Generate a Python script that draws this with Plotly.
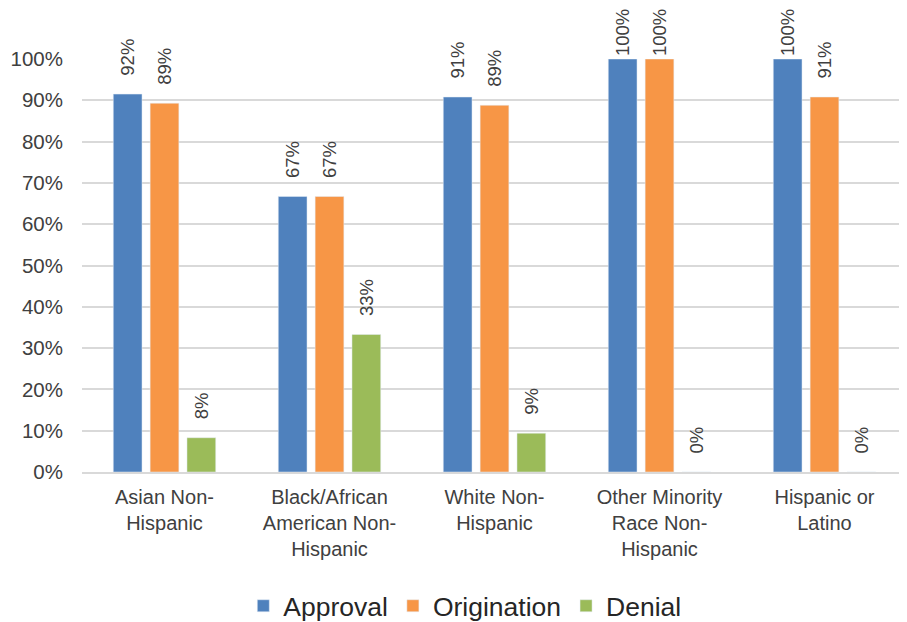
import plotly.graph_objects as go

categories = [
    "Asian Non-<br>Hispanic",
    "Black/African<br>American Non-<br>Hispanic",
    "White Non-<br>Hispanic",
    "Other Minority<br>Race Non-<br>Hispanic",
    "Hispanic or<br>Latino",
]
approval = [0.915, 0.667, 0.908, 1.0, 1.0]
origination = [0.893, 0.667, 0.888, 1.0, 0.908]
denial = [0.083, 0.333, 0.094, 0.0, 0.0]

series = [
    ("Approval", approval, "#4f81bd"),
    ("Origination", origination, "#f79646"),
    ("Denial", denial, "#9bbb59"),
]

FONT = "Liberation Sans, Arial, sans-serif"
PAD = "\u00a0\u00a0\u00a0"


def _label(v):
    # Excel pushes the 100% labels down onto the bar top
    return f"{v:.0%}" if v >= 1 else f"{PAD}{v:.0%}"


fig = go.Figure()
for name, vals, color in series:
    fig.add_trace(go.Bar(
        x=categories,
        y=vals,
        name=name,
        marker=dict(color=color),
        text=[_label(v) for v in vals],
        textposition="outside",
        textangle=-90,
        constraintext="none",
        cliponaxis=False,
        textfont=dict(size=18.5, color="#404040", family=FONT),
    ))

# page body sits 8px in from the window edge; the overflow on the right/bottom is clipped
fig.update_layout(
    barmode="group",
    bargap=0.33,
    bargroupgap=0.22,
    width=899,
    height=614,
    margin=dict(l=74, r=0, t=51, b=150),
    plot_bgcolor="white",
    paper_bgcolor="white",
    font=dict(family=FONT, color="#404040"),
    legend=dict(
        orientation="h",
        x=0.464, xanchor="center",
        yref="container", y=0.026, yanchor="middle",
        font=dict(size=26.5, color="#262626"),
        itemwidth=30,
    ),
    yaxis=dict(
        range=[0, 1.0],
        tickvals=[i / 10 for i in range(11)],
        tickformat=".0%",
        tickfont=dict(size=20.5),
        showgrid=True,
        gridcolor="#d9d9d9",
        gridwidth=1.5,
        zeroline=False,
        ticklabelstandoff=18,
        automargin=False,
    ),
    xaxis=dict(
        tickfont=dict(size=20),
        showline=True,
        linecolor="#d9d9d9",
        linewidth=1.5,
        ticklabelstandoff=6,
        automargin=False,
    ),
)

fig.write_html("out.html")
